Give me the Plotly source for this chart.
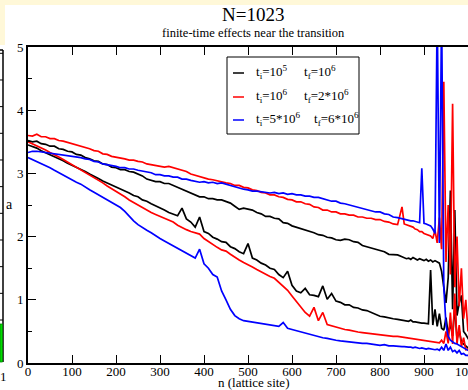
import plotly.graph_objects as go

# ---- data ----
n = list(range(0, 860, 10)) + list(range(855, 1021, 5)) + [1023]

black_upper = [
    3.52, 3.50, 3.51, 3.47, 3.46, 3.43, 3.43, 3.39, 3.38, 3.35,
    3.34, 3.30, 3.29, 3.25, 3.23, 3.20, 3.19, 3.15, 3.14, 3.10,
    3.09, 3.06, 3.06, 3.03, 3.02, 2.99, 2.96, 2.91, 2.89, 2.87,
    2.87, 2.84, 2.84, 2.81, 2.78, 2.74, 2.72, 2.68, 2.66, 2.63,
    2.63, 2.60, 2.60, 2.58, 2.58, 2.56, 2.53, 2.48, 2.43, 2.45,
    2.43, 2.42, 2.38, 2.36, 2.32, 2.32, 2.29, 2.28, 2.22, 2.21,
    2.17, 2.15, 2.13, 2.11, 2.08, 2.06, 2.03, 2.02, 1.99, 1.98,
    1.95, 1.94, 1.96, 1.95, 1.92, 1.91, 1.86, 1.84, 1.81, 1.79,
    1.77, 1.76, 1.72, 1.71, 1.71, 1.68,
    1.67, 1.65, 1.66, 1.64, 1.67, 1.65, 1.63, 1.65, 1.64, 1.62,
    1.64, 1.61, 1.63, 1.60, 1.62, 1.60, 1.58, 1.45, 1.20, 0.95,
    1.35, 2.73, 0.85, 2.42, 0.75, 0.95, 1.07, 0.50, 0.45, 0.38,
    0.33, 0.27, 0.21, 0.16, 0.12,
]
black_lower = [
    3.45, 3.43, 3.40, 3.36, 3.33, 3.30, 3.27, 3.23, 3.20, 3.16,
    3.13, 3.10, 3.06, 3.03, 2.99, 2.96, 2.92, 2.88, 2.85, 2.81,
    2.78, 2.75, 2.72, 2.69, 2.65, 2.63, 2.58, 2.56, 2.52, 2.49,
    2.45, 2.42, 2.38, 2.36, 2.33, 2.45, 2.28, 2.23, 2.15, 2.31,
    2.08, 2.05, 1.99, 1.96, 1.92, 1.91, 1.84, 1.81, 1.76, 1.73,
    1.89, 1.66, 1.63, 1.58, 1.55, 1.50, 1.48, 1.40, 1.35, 1.45,
    1.23, 1.14, 1.11, 1.18, 1.08, 1.07, 1.05, 1.22, 1.01, 1.10,
    0.98, 0.96, 0.92, 0.92, 0.88, 0.87, 0.84, 0.83, 0.80, 0.78,
    0.74, 0.73, 0.71, 0.70, 0.69, 0.68,
    0.68, 0.67, 0.66, 0.68, 0.65, 0.65, 0.64, 0.64, 0.63, 0.63,
    0.62, 0.62, 1.47, 0.60, 0.85, 0.58, 0.78, 0.55, 0.52, 0.72,
    0.46, 0.62, 0.43, 0.90, 0.38, 0.52, 0.33, 0.30, 0.27, 0.24,
    0.21, 0.17, 0.14, 0.12, 0.10,
]
red_upper = [
    3.60, 3.59, 3.62, 3.58, 3.58, 3.55, 3.55, 3.52, 3.51, 3.49,
    3.48, 3.45, 3.44, 3.41, 3.39, 3.36, 3.35, 3.31, 3.30, 3.27,
    3.26, 3.24, 3.23, 3.21, 3.21, 3.19, 3.18, 3.15, 3.14, 3.12,
    3.12, 3.10, 3.11, 3.09, 3.08, 3.05, 3.03, 2.99, 2.97, 2.94,
    2.93, 2.91, 2.90, 2.88, 2.87, 2.85, 2.84, 2.81, 2.81, 2.78,
    2.77, 2.74, 2.73, 2.70, 2.69, 2.66, 2.66, 2.63, 2.62, 2.59,
    2.58, 2.55, 2.55, 2.52, 2.51, 2.47, 2.46, 2.42, 2.42, 2.39,
    2.39, 2.36, 2.36, 2.34, 2.34, 2.31, 2.31, 2.29, 2.29, 2.27,
    2.27, 2.24, 2.23, 2.20, 2.19, 2.47,
    2.20, 2.19, 2.18, 2.16, 2.15, 2.12, 2.11, 2.08, 2.08, 2.05,
    2.04, 2.02, 2.01, 1.97, 2.10, 1.90, 2.30, 1.80, 4.45, 1.60,
    2.50, 1.40, 4.10, 1.20, 2.00, 0.90, 1.50, 0.70, 1.00, 0.50,
    0.60, 0.35, 0.25, 0.18, 0.12,
]
red_lower = [
    3.50, 3.47, 3.44, 3.40, 3.37, 3.33, 3.30, 3.26, 3.22, 3.18,
    3.14, 3.10, 3.06, 3.02, 2.98, 2.94, 2.89, 2.85, 2.80, 2.76,
    2.71, 2.67, 2.63, 2.58, 2.54, 2.49, 2.45, 2.41, 2.38, 2.35,
    2.32, 2.28, 2.26, 2.23, 2.18, 2.14, 2.11, 2.08, 2.06, 2.04,
    1.97, 1.92, 1.88, 1.83, 1.79, 1.77, 1.72, 1.67, 1.63, 1.59,
    1.56, 1.52, 1.48, 1.44, 1.41, 1.37, 1.34, 1.28, 1.22, 1.15,
    1.06, 0.97, 0.88, 0.80, 0.74, 0.88, 0.67, 0.80, 0.61, 0.59,
    0.56, 0.55, 0.53, 0.52, 0.50, 0.49, 0.48, 0.47, 0.46, 0.45,
    0.44, 0.44, 0.43, 0.42, 0.42, 0.41,
    0.41, 0.40, 0.40, 0.39, 0.39, 0.38, 0.37, 0.37, 0.36, 0.36,
    0.35, 0.35, 0.34, 0.34, 0.33, 0.33, 0.32, 0.36, 0.31, 0.50,
    0.31, 0.80, 0.30, 1.10, 0.30, 0.60, 0.26, 0.40, 0.21, 0.22,
    0.18, 0.15, 0.12, 0.10, 0.08,
]
blue_upper = [
    3.33, 3.35, 3.35, 3.34, 3.34, 3.32, 3.32, 3.30, 3.30, 3.28,
    3.28, 3.26, 3.25, 3.23, 3.22, 3.19, 3.18, 3.15, 3.14, 3.12,
    3.11, 3.09, 3.09, 3.07, 3.07, 3.05, 3.04, 3.02, 3.01, 2.98,
    2.98, 2.96, 2.96, 2.94, 2.94, 2.91, 2.91, 2.89, 2.88, 2.86,
    2.87, 2.85, 2.86, 2.84, 2.85, 2.83, 2.81, 2.78, 2.77, 2.75,
    2.74, 2.72, 2.72, 2.71, 2.71, 2.69, 2.70, 2.68, 2.69, 2.67,
    2.68, 2.66, 2.66, 2.64, 2.64, 2.62, 2.62, 2.60, 2.59, 2.56,
    2.56, 2.53, 2.52, 2.50, 2.49, 2.46, 2.45, 2.42, 2.41, 2.39,
    2.39, 2.36, 2.35, 2.31, 2.30, 2.28,
    2.28, 2.26, 2.26, 2.25, 2.25, 2.24, 2.24, 2.22, 3.08, 2.21,
    2.20, 2.18, 2.17, 2.12, 2.05, 5.60, 1.90, 5.60, 1.20, 0.60,
    0.42, 0.36, 0.33, 0.31, 0.30, 0.28, 0.27, 0.25, 0.23, 0.21,
    0.19, 0.16, 0.13, 0.10, 0.08,
]
blue_lower = [
    3.25, 3.22, 3.19, 3.16, 3.13, 3.09, 3.05, 3.01, 2.97, 2.93,
    2.90, 2.86, 2.83, 2.78, 2.74, 2.70, 2.66, 2.62, 2.58, 2.54,
    2.50, 2.46, 2.40, 2.32, 2.25, 2.19, 2.14, 2.10, 2.06, 2.01,
    1.97, 1.93, 1.89, 1.85, 1.82, 1.78, 1.74, 1.70, 1.66, 1.80,
    1.57, 1.50, 1.40, 1.36, 1.14, 1.00, 0.85, 0.75, 0.70, 0.67,
    0.66, 0.64, 0.63, 0.62, 0.61, 0.60, 0.59, 0.58, 0.64, 0.55,
    0.53, 0.51, 0.49, 0.48, 0.46, 0.44, 0.42, 0.40, 0.39, 0.37,
    0.36, 0.35, 0.34, 0.33, 0.32, 0.32, 0.31, 0.31, 0.30, 0.30,
    0.28, 0.29, 0.27, 0.27, 0.26, 0.26,
    0.26, 0.25, 0.25, 0.25, 0.24, 0.25, 0.24, 0.23, 0.24, 0.23,
    0.22, 0.23, 0.22, 0.22, 0.21, 0.22, 0.20, 0.25, 0.20, 0.30,
    0.20, 0.25, 0.18, 0.20, 0.16, 0.20, 0.14, 0.15, 0.12, 0.12,
    0.10, 0.10, 0.08, 0.07, 0.06,
]

legend_ti = ["t<sub>i</sub>=10<sup>5</sup>", "t<sub>i</sub>=10<sup>6</sup>", "t<sub>i</sub>=5*10<sup>6</sup>"]
legend_tf = ["t<sub>f</sub>=10<sup>6</sup>", "t<sub>f</sub>=2*10<sup>6</sup>", "t<sub>f</sub>=6*10<sup>6</sup>"]
colors = ["#000000", "#ff0000", "#0000ff"]

series = [(black_upper, black_lower), (red_upper, red_lower), (blue_upper, blue_lower)]
for s in series:
    for arr in s:
        assert len(arr) == len(n), (len(arr), len(n))

FONT = "Liberation Serif"
W, H = 468, 390
L, R, T, B = 28, 0, 47, 27
PW, PH = W - L - R, H - T - B


def px(x):
    return (x - L) / PW


def py(y):
    return (H - B - y) / PH


fig = go.Figure()
for (up, lo), c in zip(series, colors):
    for arr in (up, lo):
        fig.add_trace(go.Scatter(x=n, y=arr, mode="lines",
                                 line=dict(color=c, width=1.7),
                                 showlegend=False, hoverinfo="skip"))

shapes = []
annotations = []

# pale yellow page border strips
YEL = "#fff8d8"
shapes.append(dict(type="rect", xref="paper", yref="paper", x0=px(0), x1=px(W),
                   y0=py(5), y1=py(0), fillcolor=YEL, line=dict(width=0), layer="below"))
shapes.append(dict(type="rect", xref="paper", yref="paper", x0=px(0), x1=px(5),
                   y0=py(45), y1=py(0), fillcolor=YEL, line=dict(width=0), layer="below"))

# neighbouring panel edge at the far left
shapes.append(dict(type="line", xref="paper", yref="paper", x0=px(3), x1=px(3),
                   y0=py(50), y1=py(362), line=dict(color="black", width=1.5)))
shapes.append(dict(type="line", xref="paper", yref="paper", x0=px(0), x1=px(3),
                   y0=py(50), y1=py(50), line=dict(color="black", width=1.5)))
for k in range(12):
    yy = 53.3 + 26.67 * k
    shapes.append(dict(type="line", xref="paper", yref="paper", x0=px(0), x1=px(3),
                       y0=py(yy), y1=py(yy), line=dict(color="black", width=1)))
shapes.append(dict(type="rect", xref="paper", yref="paper", x0=px(0), x1=px(2.5),
                   y0=py(362), y1=py(324), fillcolor="#00dd00",
                   line=dict(color="#008800", width=0.8)))
annotations.append(dict(text="1", xref="paper", yref="paper", x=px(3), y=py(376),
                        showarrow=False, xanchor="center", yanchor="middle",
                        font=dict(family=FONT, size=13, color="black")))

# legend box
shapes.append(dict(type="rect", xref="paper", yref="paper", x0=px(227), x1=px(359),
                   y0=py(134), y1=py(57), fillcolor="white",
                   line=dict(color="black", width=1)))
tf_x = [302, 302, 312]
for i, (c, yy) in enumerate(zip(colors, [73, 97, 120])):
    shapes.append(dict(type="line", xref="paper", yref="paper", x0=px(233), x1=px(244),
                       y0=py(yy), y1=py(yy), line=dict(color=c, width=1.5)))
    annotations.append(dict(text=legend_ti[i], xref="paper", yref="paper", x=px(254), y=py(yy - 1),
                            showarrow=False, xanchor="left", yanchor="middle",
                            font=dict(family=FONT, size=13, color="black")))
    annotations.append(dict(text=legend_tf[i], xref="paper", yref="paper", x=px(tf_x[i]), y=py(yy - 1),
                            showarrow=False, xanchor="left", yanchor="middle",
                            font=dict(family=FONT, size=13, color="black")))

# titles
annotations.append(dict(text="N=1023", xref="paper", yref="paper", x=px(253), y=py(14),
                        showarrow=False, xanchor="center", yanchor="middle",
                        font=dict(family=FONT, size=19, color="black")))
annotations.append(dict(text="finite-time effects near the transition", xref="paper", yref="paper",
                        x=px(253), y=py(33), showarrow=False, xanchor="center", yanchor="middle",
                        font=dict(family=FONT, size=12.5, color="black")))
annotations.append(dict(text="n (lattice site)", xref="paper", yref="paper", x=px(253), y=py(383),
                        showarrow=False, xanchor="center", yanchor="middle",
                        font=dict(family=FONT, size=13, color="black")))
annotations.append(dict(text="a", xref="paper", yref="paper", x=px(9), y=py(204),
                        showarrow=False, xanchor="center", yanchor="middle",
                        font=dict(family=FONT, size=14, color="black")))

fig.update_layout(
    width=W, height=H,
    margin=dict(l=L, r=R, t=T, b=B, pad=0, autoexpand=False),
    paper_bgcolor="white", plot_bgcolor="white",
    font=dict(family=FONT, size=13, color="black"),
    shapes=shapes, annotations=annotations,
    showlegend=False,
)
fig.update_xaxes(range=[0, 1000], tickmode="linear", tick0=0, dtick=100,
                 ticks="inside", ticklen=8, tickwidth=1.3, tickcolor="black",
                 showline=True, linecolor="black", linewidth=2, mirror="ticks",
                 showgrid=False, zeroline=False, ticklabeloverflow="allow",
                 automargin=False, ticklabelstandoff=-5,
                 tickfont=dict(family=FONT, size=13))
fig.update_yaxes(range=[0, 5], tickmode="linear", tick0=0, dtick=1,
                 ticks="inside", ticklen=8, tickwidth=1.3, tickcolor="black",
                 minor=dict(ticks="inside", ticklen=4, tickwidth=1.3, tickcolor="black",
                            dtick=0.5, showgrid=False),
                 showline=True, linecolor="black", linewidth=2, mirror=False,
                 showgrid=False, zeroline=False, automargin=False,
                 tickfont=dict(family=FONT, size=13))

fig.write_html("out.html")
